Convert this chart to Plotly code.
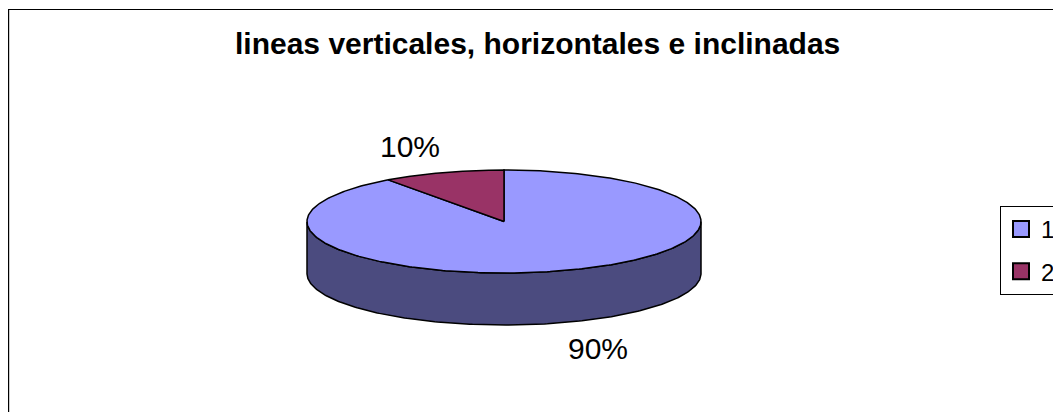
import numpy as np
import plotly.graph_objects as go

# ---- data ----
title_text = "lineas verticales, horizontales e inclinadas"
labels = ["1", "2"]
values = [90, 10]
top_colors = ["#9999FF", "#993366"]
side_colors = ["#4B4B7F", "#4D1A33"]

# ---- geometry / style (pixels of the 1061x412 window) ----
OFF = 8                    # browser body margin
WIN_W, WIN_H = 1061, 412
W, H = WIN_W - OFF, WIN_H - OFF
CX, CY = 504.0 - OFF, 221.5 - OFF   # centre of top face in figure px
RX = 197.0                 # horizontal radius (unit length)
TILT = 51.5 / 197.0        # vertical squash of top ellipse
DEPTH = 52.0 / 197.0       # thickness of the pie
LABEL_K = 1.54             # label distance factor
LINE_W = 1.5
FONT = "Liberation Sans, Arial, sans-serif"

total = float(sum(values))
fracs = [v / total for v in values]
cum = np.concatenate([[0.0], np.cumsum(fracs)])


def ang(c):
    # clockwise from 12 o'clock, converted to math angle
    return np.pi / 2 - 2 * np.pi * c


def px(x):
    return (x - OFF) / W


def py(y):
    return 1 - (y - OFF) / H


fig = go.Figure()

# side walls (front half only), drawn first
for i, lab in enumerate(labels):
    t = np.linspace(ang(cum[i]), ang(cum[i + 1]), 400)
    mask = np.sin(t) <= 1e-9
    if mask.sum() < 2:
        continue
    idx = np.where(mask)[0]
    runs = np.split(idx, np.where(np.diff(idx) != 1)[0] + 1)
    for r in runs:
        if len(r) < 2:
            continue
        tt = t[r]
        xt = np.cos(tt)
        yt = TILT * np.sin(tt)
        xs = np.concatenate([xt, xt[::-1], xt[:1]])
        ys = np.concatenate([yt, (yt - DEPTH)[::-1], yt[:1]])
        fig.add_trace(go.Scatter(
            x=xs, y=ys, mode="lines", fill="toself",
            fillcolor=side_colors[i],
            line=dict(color="black", width=LINE_W),
            showlegend=False, hoverinfo="skip"))

# top faces
for i, lab in enumerate(labels):
    t = np.linspace(ang(cum[i]), ang(cum[i + 1]), 400)
    xs = np.concatenate([[0.0], np.cos(t), [0.0]])
    ys = np.concatenate([[0.0], TILT * np.sin(t), [0.0]])
    fig.add_trace(go.Scatter(
        x=xs, y=ys, mode="lines", fill="toself",
        fillcolor=top_colors[i],
        line=dict(color="black", width=LINE_W),
        showlegend=False, hoverinfo="skip"))

# percentage labels
for i, lab in enumerate(labels):
    m = (ang(cum[i]) + ang(cum[i + 1])) / 2
    lx = LABEL_K * np.cos(m)
    ly = LABEL_K * TILT * np.sin(m) - (DEPTH if np.sin(m) < 0 else 0.0)
    fig.add_annotation(
        x=lx, y=ly, xref="x", yref="y", showarrow=False,
        text=f"{round(fracs[i] * 100)}%",
        font=dict(family=FONT, size=30, color="black"),
        xanchor="center", yanchor="middle")

# legend entries
for i, lab in enumerate(labels):
    fig.add_trace(go.Scatter(
        x=[None], y=[None], mode="markers", name=lab,
        marker=dict(symbol="square", size=16, color=top_colors[i],
                    line=dict(color="black", width=2)),
        legendgroup=lab, hoverinfo="skip"))

# title
fig.add_annotation(
    x=px(537), y=py(44), xref="paper", yref="paper", showarrow=False,
    text=f"<b>{title_text}</b>",
    font=dict(family=FONT, size=30, color="black"),
    xanchor="center", yanchor="middle")

# chart frame
fig.add_shape(type="rect", xref="paper", yref="paper",
              x0=px(8.6), y0=-0.05, x1=1.05, y1=py(9.5),
              line=dict(color="black", width=1.2), fillcolor="rgba(0,0,0,0)",
              layer="below")

fig.update_layout(
    width=W, height=H,
    margin=dict(l=0, r=0, t=0, b=0, pad=0, autoexpand=False),
    paper_bgcolor="white", plot_bgcolor="white",
    xaxis=dict(range=[-CX / RX, (W - CX) / RX], visible=False, fixedrange=True),
    yaxis=dict(range=[-(H - CY) / RX, CY / RX], visible=False, fixedrange=True),
    showlegend=True,
    legend=dict(x=px(1000), y=py(206), xanchor="left", yanchor="top",
                bordercolor="black", borderwidth=1, bgcolor="white",
                font=dict(family=FONT, size=24, color="black"),
                itemwidth=30, tracegroupgap=8),
)

fig.write_html("out.html")
